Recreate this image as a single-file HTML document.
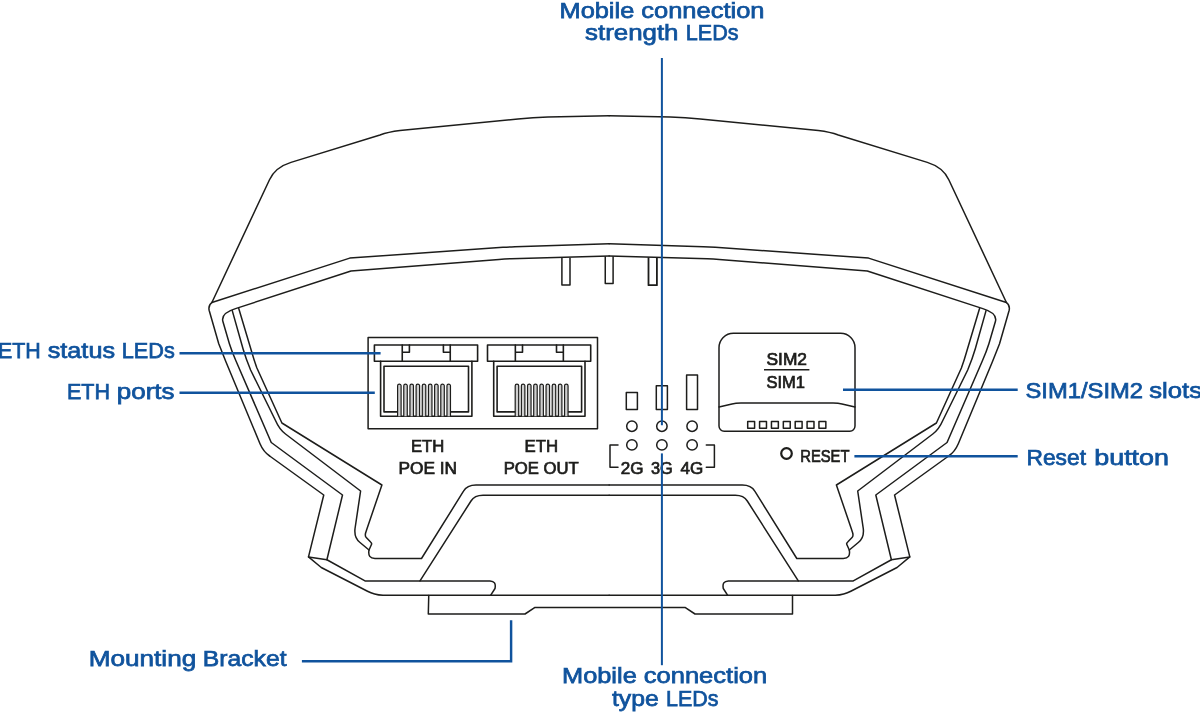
<!DOCTYPE html>
<html><head><meta charset="utf-8"><title>Device front view</title>
<style>
html,body{margin:0;padding:0;background:#fff;}
body{width:1200px;height:713px;overflow:hidden;}
svg{display:block;will-change:transform;}
text{font-family:"Liberation Sans",sans-serif;}
</style></head><body>
<svg width="1200" height="713" viewBox="0 0 1200 713">
<rect width="1200" height="713" fill="#fff"/>
<g fill="none" stroke="#1d1d1b" stroke-width="1.5" stroke-linejoin="round" stroke-linecap="round">
<path d="M609.15,115.8 L548,116.9 Q533,117.3 518,118.9 L400,130.5 Q388,132 380,135 L291,162.4 Q275.3,167.3 269.5,179.7 L211.9,302.5"/>
<path d="M609.15,243.75 L515,246.7 Q509,246.9 503,247.3 L349.75,258.1 L211.9,302.5"/>
<path d="M211.9,302.5 Q208,305.5 209.2,310.5 L218.75,343.75 Q222,352 226,362 L260,443.75 Q263.5,452 270,456.25 L323.75,495 L308.5,556.9 L321.25,567.5 L367.5,591.25 Q374,594.8 383,595.3 L609.15,595.3"/>
<path d="M609.15,256 L511,258.7 Q505,258.9 499,259.4 L351,271 L235.5,308.6 Q220.6,313.2 222.9,321.5 L229.4,343.75 Q232,352 236,361 L271.25,442.5 L342.5,495 L326.9,559.75 L365,580.9 L490,580.9 Q496.5,581.2 495,588.5 L490.6,595.3"/>
<path d="M308.5,556.9 L326.9,559.75"/>
<path d="M232.25,310.6 L243,348.75 Q246,359 250.6,370 L275.5,420.5 Q279.3,429.3 285.5,434 L360.6,491 L355,528.75 Q354,538 360,542.5 L369,550"/>
<path d="M238.75,308.5 L251.9,352.5 Q254,360 256.9,368 L281.9,423 L381.9,485 L366.9,529 L365.6,533 Q364.8,536 366.25,537.5 L370.6,542 Q372.3,543.5 371.25,545 L369,550 Q367.5,558.5 375,558.5 L421.5,558.5 L463.5,491.2 Q467,485 476,485 L609.15,485"/>
<path d="M420,580.9 L471,501 Q474.5,495.3 483,495.3 L609.15,495.3"/>
<g transform="translate(1218.3,0) scale(-1,1)">
<path d="M609.15,115.8 L548,116.9 Q533,117.3 518,118.9 L400,130.5 Q388,132 380,135 L291,162.4 Q275.3,167.3 269.5,179.7 L211.9,302.5"/>
<path d="M609.15,243.75 L515,246.7 Q509,246.9 503,247.3 L349.75,258.1 L211.9,302.5"/>
<path d="M211.9,302.5 Q208,305.5 209.2,310.5 L218.75,343.75 Q222,352 226,362 L260,443.75 Q263.5,452 270,456.25 L323.75,495 L308.5,556.9 L321.25,567.5 L367.5,591.25 Q374,594.8 383,595.3 L609.15,595.3"/>
<path d="M609.15,256 L511,258.7 Q505,258.9 499,259.4 L351,271 L235.5,308.6 Q220.6,313.2 222.9,321.5 L229.4,343.75 Q232,352 236,361 L271.25,442.5 L342.5,495 L326.9,559.75 L365,580.9 L490,580.9 Q496.5,581.2 495,588.5 L490.6,595.3"/>
<path d="M308.5,556.9 L326.9,559.75"/>
<path d="M232.25,310.6 L243,348.75 Q246,359 250.6,370 L275.5,420.5 Q279.3,429.3 285.5,434 L360.6,491 L355,528.75 Q354,538 360,542.5 L369,550"/>
<path d="M238.75,308.5 L251.9,352.5 Q254,360 256.9,368 L281.9,423 L381.9,485 L366.9,529 L365.6,533 Q364.8,536 366.25,537.5 L370.6,542 Q372.3,543.5 371.25,545 L369,550 Q367.5,558.5 375,558.5 L421.5,558.5 L463.5,491.2 Q467,485 476,485 L609.15,485"/>
<path d="M420,580.9 L471,501 Q474.5,495.3 483,495.3 L609.15,495.3"/>
</g>
<path d="M428.75,595.4 L428.3,614 L525,614 L535,607.4 L685,607.4 L695,614 L792.5,614 L792.5,595.4"/>
<g stroke-linecap="butt">
<path d="M561.9,258 V285 H570 V257.8"/>
<path d="M605.25,256.3 V283.5 H613.1 V256.3"/>
<path d="M648.5,257.2 V285.2 H656.9 V257.5" stroke-width="1.8"/>
</g>
<rect x="368.1" y="337.5" width="229.4" height="91.2"/>
<g stroke-width="1.6">
<g transform="translate(0,0)">
<rect x="374.4" y="345" width="103.2" height="16.25"/>
<path d="M402.25,345 V361.25 M450.25,345 V361.25 M402.25,352.25 H409.4 V345 M450.25,352.25 H443.4 V345"/>
<path d="M380.6,361.25 V416.25 H471.9 V361.25"/>
<path d="M397.50,411.9 H384 V366.25 H468.5 V411.9 H450.80"/>
<path d="M397.60,416.25 V385.8 a1.75,1.75 0 0 1 3.5,0 V416.25" stroke-width="1.2" fill="#cfcfcf"/>
<path d="M403.77,416.25 V385.8 a1.75,1.75 0 0 1 3.5,0 V416.25" stroke-width="1.2" fill="#cfcfcf"/>
<path d="M409.94,416.25 V385.8 a1.75,1.75 0 0 1 3.5,0 V416.25" stroke-width="1.2" fill="#cfcfcf"/>
<path d="M416.11,416.25 V385.8 a1.75,1.75 0 0 1 3.5,0 V416.25" stroke-width="1.2" fill="#cfcfcf"/>
<path d="M422.28,416.25 V385.8 a1.75,1.75 0 0 1 3.5,0 V416.25" stroke-width="1.2" fill="#cfcfcf"/>
<path d="M428.45,416.25 V385.8 a1.75,1.75 0 0 1 3.5,0 V416.25" stroke-width="1.2" fill="#cfcfcf"/>
<path d="M434.62,416.25 V385.8 a1.75,1.75 0 0 1 3.5,0 V416.25" stroke-width="1.2" fill="#cfcfcf"/>
<path d="M440.79,416.25 V385.8 a1.75,1.75 0 0 1 3.5,0 V416.25" stroke-width="1.2" fill="#cfcfcf"/>
<path d="M446.96,416.25 V385.8 a1.75,1.75 0 0 1 3.5,0 V416.25" stroke-width="1.2" fill="#cfcfcf"/>
</g>
<g transform="translate(113.1,0)">
<rect x="374.4" y="345" width="103.2" height="16.25"/>
<path d="M402.25,345 V361.25 M450.25,345 V361.25 M402.25,352.25 H409.4 V345 M450.25,352.25 H443.4 V345"/>
<path d="M380.6,361.25 V416.25 H471.9 V361.25"/>
<path d="M402.00,411.9 H384 V366.25 H468.5 V411.9 H455.20"/>
<path d="M402.10,416.25 V385.8 a1.75,1.75 0 0 1 3.5,0 V416.25" stroke-width="1.2" fill="#cfcfcf"/>
<path d="M408.27,416.25 V385.8 a1.75,1.75 0 0 1 3.5,0 V416.25" stroke-width="1.2" fill="#cfcfcf"/>
<path d="M414.44,416.25 V385.8 a1.75,1.75 0 0 1 3.5,0 V416.25" stroke-width="1.2" fill="#cfcfcf"/>
<path d="M420.61,416.25 V385.8 a1.75,1.75 0 0 1 3.5,0 V416.25" stroke-width="1.2" fill="#cfcfcf"/>
<path d="M426.78,416.25 V385.8 a1.75,1.75 0 0 1 3.5,0 V416.25" stroke-width="1.2" fill="#cfcfcf"/>
<path d="M432.95,416.25 V385.8 a1.75,1.75 0 0 1 3.5,0 V416.25" stroke-width="1.2" fill="#cfcfcf"/>
<path d="M439.12,416.25 V385.8 a1.75,1.75 0 0 1 3.5,0 V416.25" stroke-width="1.2" fill="#cfcfcf"/>
<path d="M445.29,416.25 V385.8 a1.75,1.75 0 0 1 3.5,0 V416.25" stroke-width="1.2" fill="#cfcfcf"/>
<path d="M451.46,416.25 V385.8 a1.75,1.75 0 0 1 3.5,0 V416.25" stroke-width="1.2" fill="#cfcfcf"/>
</g>
</g>
<rect x="626.3" y="392.6" width="11.1" height="16.8"/>
<rect x="656.3" y="385.7" width="11.1" height="23.7"/>
<rect x="686.6" y="375.1" width="10.9" height="34.3" stroke-width="1.5"/>
<circle cx="631.9" cy="426.2" r="5.2"/>
<circle cx="631.9" cy="444.9" r="5.2"/>
<circle cx="661.9" cy="426.2" r="5.2"/>
<circle cx="661.9" cy="444.9" r="5.2"/>
<circle cx="692.1" cy="426.2" r="5.2"/>
<circle cx="692.1" cy="444.9" r="5.2"/>
<path d="M618,445 H610 V467.3 H618 M706.3,445 H714.4 V467.3 H706.3"/>
<path d="M719,426 V347.7 A14.4,14.4 0 0 1 733.4,333.3 H840.6 A14.4,14.4 0 0 1 855,347.7 V426 A5.2,5.2 0 0 1 849.8,431.2 H724.2 A5.2,5.2 0 0 1 719,426 Z"/>
<path d="M719,406.9 L732,403.9 Q735.5,403.1 741,403.1 H833 Q838.5,403.1 842,403.9 L855,406.9"/>
<rect x="747.70" y="421.4" width="6.9" height="6.9"/>
<rect x="759.58" y="421.4" width="6.9" height="6.9"/>
<rect x="771.45" y="421.4" width="6.9" height="6.9"/>
<rect x="783.33" y="421.4" width="6.9" height="6.9"/>
<rect x="795.20" y="421.4" width="6.9" height="6.9"/>
<rect x="807.08" y="421.4" width="6.9" height="6.9"/>
<rect x="818.95" y="421.4" width="6.9" height="6.9"/>
<path d="M764,369.75 H809.4" stroke-width="1.4" stroke-linecap="butt"/>
<circle cx="786.5" cy="453.5" r="5.3" stroke-width="2.2"/>
</g>
<g>
<text font-size="16" fill="#1d1d1b" stroke="#1d1d1b" stroke-width="0.7"><tspan x="411.00" y="452.20" textLength="33.25" lengthAdjust="spacingAndGlyphs">ETH</tspan> <tspan x="398.50" y="473.50" textLength="58.50" lengthAdjust="spacingAndGlyphs">POE IN</tspan></text>
<text font-size="16" fill="#1d1d1b" stroke="#1d1d1b" stroke-width="0.7"><tspan x="524.50" y="452.20" textLength="33.50" lengthAdjust="spacingAndGlyphs">ETH</tspan> <tspan x="503.75" y="473.50" textLength="75.00" lengthAdjust="spacingAndGlyphs">POE OUT</tspan></text>
<text font-size="16.5" fill="#1d1d1b" stroke="#1d1d1b" stroke-width="0.7"><tspan x="620.75" y="473.90" textLength="22.75" lengthAdjust="spacingAndGlyphs">2G</tspan></text>
<text font-size="16.5" fill="#1d1d1b" stroke="#1d1d1b" stroke-width="0.7"><tspan x="651.00" y="473.90" textLength="21.75" lengthAdjust="spacingAndGlyphs">3G</tspan></text>
<text font-size="16.5" fill="#1d1d1b" stroke="#1d1d1b" stroke-width="0.7"><tspan x="680.50" y="473.90" textLength="22.75" lengthAdjust="spacingAndGlyphs">4G</tspan></text>
<text font-size="16.3" fill="#1d1d1b" stroke="#1d1d1b" stroke-width="0.7"><tspan x="766.50" y="365.45" textLength="40.50" lengthAdjust="spacingAndGlyphs">SIM2</tspan></text>
<text font-size="16.3" fill="#1d1d1b" stroke="#1d1d1b" stroke-width="0.7"><tspan x="766.50" y="388.00" textLength="38.50" lengthAdjust="spacingAndGlyphs">SIM1</tspan></text>
<text font-size="16.5" fill="#1d1d1b" stroke="#1d1d1b" stroke-width="0.7"><tspan x="800.25" y="462.00" textLength="49.25" lengthAdjust="spacingAndGlyphs">RESET</tspan></text>
<text font-size="22.7" fill="#10539d" stroke="#10539d" stroke-width="0.75"><tspan x="559.50" y="17.65" textLength="74.75" lengthAdjust="spacingAndGlyphs">Mobile</tspan> <tspan x="641.25" y="17.65" textLength="123.25" lengthAdjust="spacingAndGlyphs">connection</tspan> <tspan x="585.00" y="40.45" textLength="93.50" lengthAdjust="spacingAndGlyphs">strength</tspan> <tspan x="685.75" y="40.45" textLength="52.75" lengthAdjust="spacingAndGlyphs">LEDs</tspan></text>
<text font-size="22.7" fill="#10539d" stroke="#10539d" stroke-width="0.75"><tspan x="-2.00" y="358.35" textLength="42.75" lengthAdjust="spacingAndGlyphs">ETH</tspan> <tspan x="47.75" y="358.35" textLength="67.25" lengthAdjust="spacingAndGlyphs">status</tspan> <tspan x="121.75" y="358.35" textLength="53.00" lengthAdjust="spacingAndGlyphs">LEDs</tspan></text>
<text font-size="22.7" fill="#10539d" stroke="#10539d" stroke-width="0.75"><tspan x="67.00" y="398.55" textLength="43.00" lengthAdjust="spacingAndGlyphs">ETH</tspan> <tspan x="116.75" y="398.55" textLength="57.75" lengthAdjust="spacingAndGlyphs">ports</tspan></text>
<text font-size="22.7" fill="#10539d" stroke="#10539d" stroke-width="0.75"><tspan x="1025.50" y="398.35" textLength="117.50" lengthAdjust="spacingAndGlyphs">SIM1/SIM2</tspan> <tspan x="1149.25" y="398.35" textLength="52.75" lengthAdjust="spacingAndGlyphs">slots</tspan></text>
<text font-size="22.7" fill="#10539d" stroke="#10539d" stroke-width="0.75"><tspan x="1026.50" y="464.65" textLength="59.50" lengthAdjust="spacingAndGlyphs">Reset</tspan> <tspan x="1094.25" y="464.65" textLength="74.75" lengthAdjust="spacingAndGlyphs">button</tspan></text>
<text font-size="22.7" fill="#10539d" stroke="#10539d" stroke-width="0.75"><tspan x="88.75" y="666.15" textLength="107.50" lengthAdjust="spacingAndGlyphs">Mounting</tspan> <tspan x="202.75" y="666.15" textLength="83.75" lengthAdjust="spacingAndGlyphs">Bracket</tspan></text>
<text font-size="22.7" fill="#10539d" stroke="#10539d" stroke-width="0.75"><tspan x="562.00" y="682.65" textLength="74.75" lengthAdjust="spacingAndGlyphs">Mobile</tspan> <tspan x="643.75" y="682.65" textLength="123.50" lengthAdjust="spacingAndGlyphs">connection</tspan> <tspan x="612.00" y="705.75" textLength="46.75" lengthAdjust="spacingAndGlyphs">type</tspan> <tspan x="666.00" y="705.75" textLength="52.50" lengthAdjust="spacingAndGlyphs">LEDs</tspan></text>
</g>
<g fill="none" stroke="#10539d" stroke-width="2.45" stroke-linecap="butt"><path d="M661.9,58 V425.2" stroke-width="2"/><path d="M661.9,453.4 V665.2" stroke-width="2"/><path d="M179.5,353.25 H380.6"/><path d="M179.5,392.7 H374.8"/><path d="M843,389.7 H1017.7"/><path d="M854.4,456.3 H1017.7"/><path d="M301.9,661.2 H511.1 V620.2" stroke-linejoin="miter"/></g>
</svg>
</body></html>
